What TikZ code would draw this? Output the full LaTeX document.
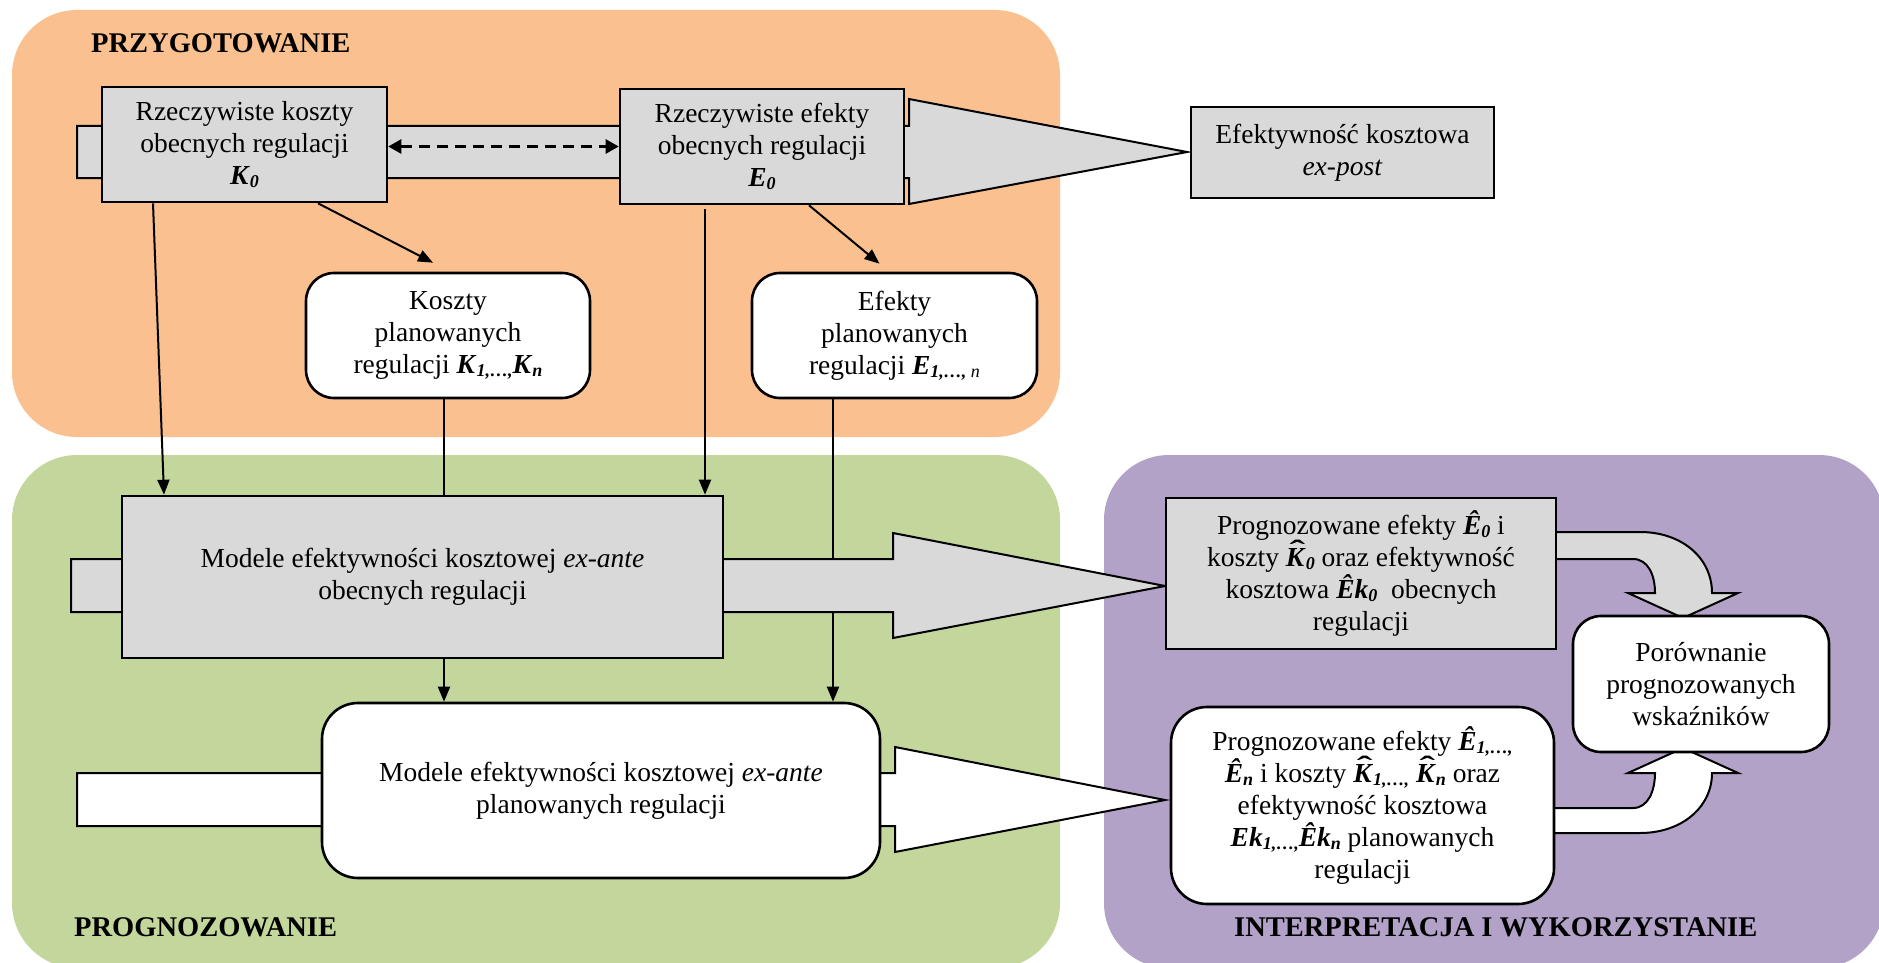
\documentclass[tikz,border=0pt]{standalone}
\usepackage{fontspec}
\setmainfont{Liberation Serif}
\usetikzlibrary{arrows.meta,calc}
\definecolor{orangebg}{HTML}{FAC090}
\definecolor{greenbg}{HTML}{C3D69B}
\definecolor{purplebg}{HTML}{B3A2C7}
\definecolor{boxgray}{HTML}{D9D9D9}
\pgfdeclarelayer{regions}
\pgfdeclarelayer{lines}
\pgfdeclarelayer{bands}
\pgfsetlayers{regions,lines,bands,main}
\newcommand\bi[1]{\textbf{\textit{#1}}}
\newcommand\sbi[1]{\raisebox{-0.25ex}{\fontsize{18}{18}\selectfont\bfseries\itshape #1}}
\newcommand\si[1]{\raisebox{-0.25ex}{\fontsize{18}{18}\selectfont\itshape #1}}
\newcommand\hatK{\ooalign{\bi{K}\cr\hidewidth\kern3pt\raisebox{0.24em}{\scalebox{1.7}[1]{\bfseries ˆ}}\hidewidth\cr}}
\begin{document}
\begin{tikzpicture}[x=1pt,y=-1pt,
  txt/.style={font=\fontsize{27.5}{32}\selectfont, align=center, text=black, inner sep=0pt},
  graybox/.style={txt, draw=black, line width=2.6pt, fill=boxgray},
  roundbox/.style={txt, draw=black, line width=2.6pt, fill=white, rounded corners=#1},
  roundbox/.default=28pt,
  conn/.style={line width=2pt, -{Triangle[length=15pt,width=12pt]}},
  plainline/.style={line width=2pt},
  band/.style={draw=black, line width=2pt, line join=miter},
  regionlabel/.style={font=\fontsize{28.5}{32}\selectfont\bfseries, anchor=west, inner sep=0pt}]
\useasboundingbox (0,0) rectangle (1879,963);

% region labels
\node[regionlabel] (lp) at (91,43) {PRZYGOTOWANIE};
\node[regionlabel] (lg) at (74,927) {PROGNOZOWANIE};
\node[regionlabel] (li) at (1234,927) {INTERPRETACJA I WYKORZYSTANIE};

% nodes
\node[graybox, minimum width=285pt, minimum height=115pt] (K0) at (244.5,144.5)
  {Rzeczywiste koszty\\obecnych regulacji\\\bi{K}\sbi{0}};
\node[graybox, minimum width=284pt, minimum height=115pt] (E0) at (762,146.5)
  {Rzeczywiste efekty\\obecnych regulacji\\\bi{E}\sbi{0}};
\node[graybox, minimum width=303pt, minimum height=91pt] (XP) at (1342.5,152.5)
  {Efektywność kosztowa\\\textit{ex-post}};
\node[roundbox, minimum width=284pt, minimum height=125pt] (KP) at (448,335.5)
  {Koszty\\planowanych\\regulacji \bi{K}\sbi{1,…,}\bi{K}\sbi{n}};
\node[roundbox, minimum width=285pt, minimum height=125pt] (EP) at (894.5,335.5)
  {Efekty\\planowanych\\regulacji \bi{E}\sbi{1,…, }\si{n}};
\node[graybox, minimum width=601pt, minimum height=162pt] (M0) at (422.5,577)
  {Modele efektywności kosztowej \textit{ex-ante}\\obecnych regulacji};
\node[roundbox=36pt, minimum width=558pt, minimum height=175pt] (MP) at (601,790.5)
  {Modele efektywności kosztowej \textit{ex-ante}\\planowanych regulacji};
\node[graybox, minimum width=390pt, minimum height=151pt] (PE0) at (1361,573.5)
  {Prognozowane efekty \bi{Ê}\sbi{0} i\\koszty \hatK\sbi{0} oraz efektywność\\kosztowa \bi{Êk}\sbi{0}~ obecnych\\regulacji};
\node[roundbox=36pt, minimum width=383pt, minimum height=197pt] (PEN) at (1362.5,805.5)
  {Prognozowane efekty \bi{Ê}\sbi{1,…,}\\\bi{Ê}\sbi{n} i koszty \hatK\sbi{1,…,} \hatK\sbi{n} oraz\\efektywność kosztowa\\\bi{Ek}\sbi{1,…,}\bi{Êk}\sbi{n} planowanych\\regulacji};
\node[roundbox=28pt, minimum width=256pt, minimum height=136pt] (POR) at (1701,684)
  {Porównanie\\prognozowanych\\wskaźników};

% connectors
\draw[conn] ($(K0.south)+(73.5,0)$) -- ($(KP.north)+(-15,-9)$);
\draw[conn] ($(E0.south)+(47,0)$) -- ($(EP.north)+(-15,-8)$);
\draw[conn] ($(K0.south)+(-91.5,0)$) -- ($(M0.north)+(-258.5,0)$);
\draw[plainline] ($(KP.south)+(-4,0)$) -- ($(M0.north)+(21.5,0)$);
\draw[conn] ($(E0.south)+(-57,4)$) -- ($(M0.north)+(282.5,0)$);
\draw[conn] ($(M0.south)+(21.5,0)$) -- ($(MP.north)+(-157,0)$);
\draw[line width=2.6pt, dash pattern=on 11pt off 7pt,
  {Triangle[length=13pt,width=14pt]}-{Triangle[length=13pt,width=14pt]}]
  (K0.east |- E0.west) -- (E0.west);

\begin{pgfonlayer}{lines}
\draw[conn] ($(EP.south)+(-61.5,0)$) -- ($(MP.north)+(232,0)$);
\end{pgfonlayer}

\begin{pgfonlayer}{bands}
\draw[band, fill=boxgray] (77,126) -- (909,126) -- (909,99) -- (1187,152) -- (909,204) -- (909,178) -- (77,178) -- cycle;
\draw[band, fill=boxgray] (71,559) -- (893,559) -- (893,533) -- (1165,586) -- (893,638) -- (893,612) -- (71,612) -- cycle;
\draw[band, fill=white] (77,773) -- (895,773) -- (895,747) -- (1165,800) -- (895,852) -- (895,826) -- (77,826) -- cycle;
% U-shaped arrows
\draw[band, fill=boxgray] (1550,532) -- (1640,532) .. controls (1682,532) and (1712,558) .. (1712,593)
  -- (1738,593) -- (1683,618) -- (1628,593) -- (1655,593)
  .. controls (1655,575) and (1648,559) .. (1633,559) -- (1550,559) -- cycle;
\draw[band, fill=white] (1548,833) -- (1640,833) .. controls (1682,833) and (1712,807) .. (1712,773)
  -- (1738,773) -- (1683,748) -- (1628,773) -- (1655,773)
  .. controls (1655,791) and (1648,808) .. (1633,808) -- (1548,808) -- cycle;
\end{pgfonlayer}

\begin{pgfonlayer}{regions}
\fill[orangebg, rounded corners=65pt] (12,10) rectangle (1060,437);
\fill[greenbg, rounded corners=65pt] (12,455) rectangle (1060,968);
\fill[purplebg, rounded corners=65pt] (1104,455) rectangle (1884,968);
\end{pgfonlayer}
\end{tikzpicture}
\end{document}
